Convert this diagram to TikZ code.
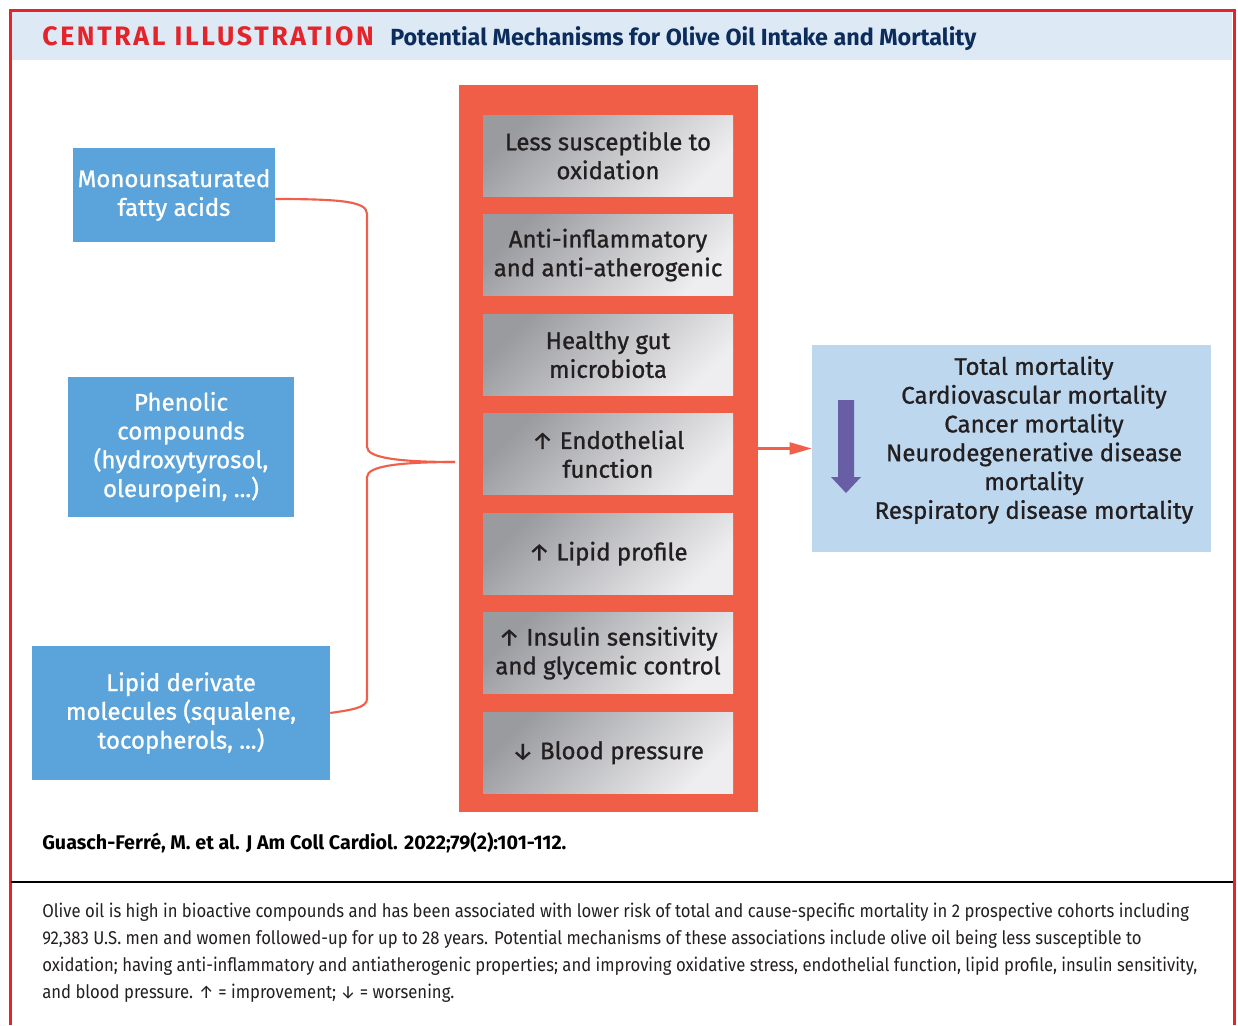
\documentclass[tikz,border=0pt]{standalone}
\usepackage{fontspec}
\setmainfont{Fira Sans}
\newfontfamily\medfont{Fira Sans}[FakeBold=1]
\newfontfamily\capfont{Fira Sans}[FakeStretch=0.9]
\usetikzlibrary{arrows.meta,positioning}
\definecolor{frame}{HTML}{E3242B}
\definecolor{band}{HTML}{DDE9F5}
\definecolor{navy}{HTML}{0C2C5C}
\definecolor{srcblue}{HTML}{5BA4DB}
\definecolor{column}{HTML}{F15E47}
\definecolor{brace}{HTML}{EF5F49}
\definecolor{outblue}{HTML}{BDD7EE}
\definecolor{purp}{HTML}{675EA5}
\definecolor{graydark}{HTML}{9A9B9F}
\definecolor{graylight}{HTML}{EEEEF0}
\definecolor{ink}{HTML}{231F20}

\begin{document}
\begin{tikzpicture}[x=.75pt,y=-.75pt,node distance=13.5pt,
    every node/.style={inner sep=0pt,align=center,font=\medfont\fontsize{18}{21.6}\selectfont},
    srcbox/.style 2 args={fill=srcblue,text=white,minimum width=#1,minimum height=#2},
    mechbox/.style={left color=graydark,right color=graylight,shading angle=45,text=ink,minimum width=187.5pt,minimum height=60.75pt},
    link/.style={draw=brace,line width=1.6pt}]
  \useasboundingbox (0,0) rectangle (1238,1025);
  % frame and header
  \fill[band] (12,12) rectangle (1232,60);
  \draw[frame,line width=2.25pt] (10,1025) -- (10,10) -- (1234,10) -- (1234,1025);
  \node[anchor=base west,text=frame,font=\fontsize{20}{24}\selectfont\bfseries\addfontfeatures{LetterSpace=10}] (kicker) at (42,45) {CENTRAL ILLUSTRATION};
  \node[anchor=base west,text=navy,font=\fontsize{17.5}{21}\selectfont\bfseries] (title) at (390,45) {Potential Mechanisms for Olive Oil Intake and Mortality};

  % sources
  \node[srcbox={151.5pt}{70.5pt}] (mufa) at (174,195) {Monounsaturated\\fatty acids};
  \node[srcbox={169.5pt}{105pt}] (phen) at (181,447) {Phenolic\\compounds\\(hydroxytyrosol,\\oleuropein, ...)};
  \node[srcbox={223.5pt}{100.5pt}] (lipid) at (181,713) {Lipid derivate\\molecules (squalene,\\tocopherols, ...)};

  % mechanisms
  \node[fill=column,minimum width=224.25pt,minimum height=545.25pt] (col) at (608.5,448.5) {};
  \node[mechbox] (oxid) at (608,155.5) {Less susceptible to\\oxidation};
  \node[mechbox,below=of oxid] (infl) {Anti-inflammatory\\and anti-atherogenic};
  \node[mechbox,below=of infl] (gut) {Healthy gut\\microbiota};
  \node[mechbox,below=of gut] (endo) {↑ Endothelial\\function};
  \node[mechbox,below=of endo] (lipprof) {↑ Lipid profile};
  \node[mechbox,below=of lipprof] (insul) {↑ Insulin sensitivity\\and glycemic control};
  \node[mechbox,below=of insul] (bp) {↓ Blood pressure};

  % outcomes
  \node[fill=outblue,minimum width=299.25pt,minimum height=155.25pt] (outcome) at (1011.5,448.5) {};
  \node[text=ink] (outtext) at (1034,440) {Total mortality\\Cardiovascular mortality\\Cancer mortality\\Neurodegenerative disease\\mortality\\Respiratory disease mortality};
  \fill[purp] (838,400) -- (854,400) -- (854,477) -- (861,477) -- (846,493) -- (831,477) -- (838,477) -- cycle;

  % brace and arrow
  \coordinate (tip) at (455,462);
  \draw[link] ([yshift=-3pt]mufa.east) .. controls (345,199) and (367,202) .. (367,214) -- (367,447) .. controls (367,458) and (400,462) .. (tip);
  \draw[link] (tip) .. controls (400,462) and (367,466) .. (367,477) -- (367,699) .. controls (367,708) and (350,710) .. (lipid.east);
  \draw[link,-{Triangle[length=16.5pt,width=9pt]}] (col.east) -- (outcome.west);

  % citation and caption
  \node[anchor=base west,text=black,font=\fontsize{14.8}{17}\selectfont\bfseries] (cite) at (42,849) {Guasch-Ferré, M. et al. J Am Coll Cardiol. 2022;79(2):101-112.};
  \draw[black,line width=1.5pt] (11,882) -- (1233,882);
  \node[anchor=north west,align=left,text=ink,font=\capfont\fontsize{13.9}{20.25}\selectfont] (caption) at (42,903) {Olive oil is high in bioactive compounds and has been associated with lower risk of total and cause-specific mortality in 2 prospective cohorts including\\92,383 U.S. men and women followed-up for up to 28 years. Potential mechanisms of these associations include olive oil being less susceptible to\\oxidation; having anti-inflammatory and antiatherogenic properties; and improving oxidative stress, endothelial function, lipid profile, insulin sensitivity,\\and blood pressure. ↑ = improvement; ↓ = worsening.};
\end{tikzpicture}
\end{document}
